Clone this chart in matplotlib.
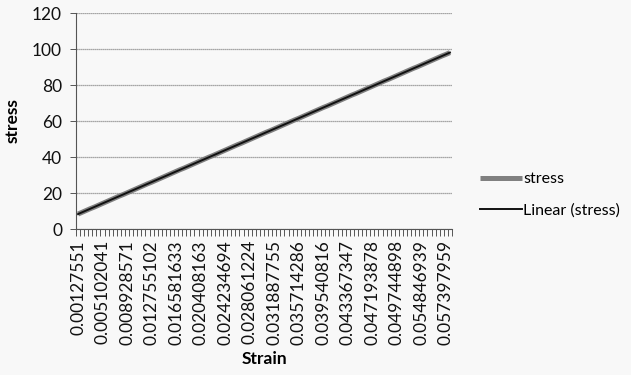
import matplotlib
matplotlib.use("Agg")
import matplotlib.pyplot as plt
import numpy as np

plt.rcParams["font.family"] = ["Lato", "DejaVu Sans"]

# visible category labels (every 6th category is labelled)
strain_labels = [
    "0.00127551", "0.005102041", "0.008928571", "0.012755102",
    "0.016581633", "0.020408163", "0.024234694", "0.028061224",
    "0.031887755", "0.035714286", "0.039540816", "0.043367347",
    "0.047193878", "0.049744898", "0.054846939", "0.057397959",
]
label_every = 6

# stress readings, one per strain category
stress = [
    8.3, 9.3, 10.3, 11.3, 12.2, 13.2, 14.2, 15.2, 16.2, 17.2,
    18.2, 19.1, 20.1, 21.1, 22.1, 23.1, 24.1, 25.1, 26.0, 27.0,
    28.0, 29.0, 30.0, 31.0, 32.0, 33.0, 33.9, 34.9, 35.9, 36.9,
    37.9, 38.9, 39.9, 40.8, 41.8, 42.8, 43.8, 44.8, 45.8, 46.8,
    47.7, 48.7, 49.7, 50.7, 51.7, 52.7, 53.7, 54.6, 55.6, 56.6,
    57.6, 58.6, 59.6, 60.6, 61.5, 62.5, 63.5, 64.5, 65.5, 66.5,
    67.5, 68.4, 69.4, 70.4, 71.4, 72.4, 73.4, 74.4, 75.3, 76.3,
    77.3, 78.3, 79.3, 80.3, 81.3, 82.3, 83.2, 84.2, 85.2, 86.2,
    87.2, 88.2, 89.2, 90.1, 91.1, 92.1, 93.1, 94.1, 95.1, 96.1,
    97.0, 98.0,
]

bg = "#f8f8f8"
fs = 12.5
fig = plt.figure(figsize=(6.31, 3.75), dpi=100, facecolor=bg)
ax = fig.add_axes([0.1204, 0.3893, 0.5959, 0.576], facecolor=bg)

x = np.arange(len(stress))
ax.plot(x, stress, color="#808080", linewidth=3.6, solid_capstyle="butt", label="stress")

# linear trendline through the series
coef = np.polyfit(x, stress, 1)
ax.plot(x, np.polyval(coef, x), color="#111111", linewidth=1.4, label="Linear (stress)")

ax.set_xlim(-0.5, len(stress) - 0.5)
ax.set_ylim(0, 120)
ax.set_yticks(range(0, 121, 20))
ax.yaxis.grid(True, linestyle=(0, (1, 0.6)), color="#8c8c8c", linewidth=0.9)
ax.set_axisbelow(True)

ax.set_xticks(np.arange(0, len(stress), label_every)[: len(strain_labels)])
ax.set_xticklabels(strain_labels, rotation=90, fontsize=fs, color="#111111")
ax.set_xticks(np.arange(-0.5, len(stress), 1), minor=True)
ax.tick_params(axis="x", which="major", length=0, pad=8)
ax.tick_params(axis="x", which="minor", length=5, width=0.7, color="#555555")
ax.tick_params(axis="y", length=4, width=0.7, color="#555555", labelsize=fs,
               labelcolor="#111111", pad=6)

for side in ("top", "right"):
    ax.spines[side].set_visible(False)
for side in ("left", "bottom"):
    ax.spines[side].set_color("#555555")
    ax.spines[side].set_linewidth(0.8)

ax.set_xlabel("Strain", fontsize=fs, fontweight="bold", labelpad=4)
ax.set_ylabel("stress", fontsize=fs, fontweight="bold", labelpad=8)

fig.legend(loc="center left", bbox_to_anchor=(0.738, 0.48), frameon=False,
           fontsize=11.5, handlelength=2.6, handletextpad=0.1, labelspacing=1.1)

fig.savefig("out.png", dpi=100, facecolor=bg)
